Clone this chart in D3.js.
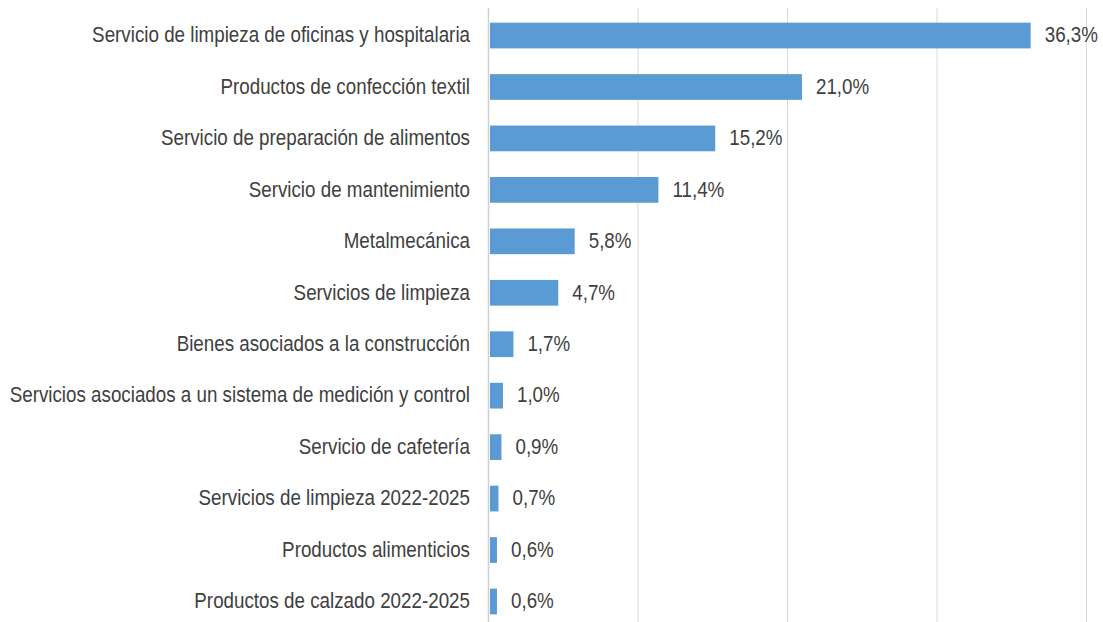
<!DOCTYPE html>
<html lang="es">
<head>
<meta charset="UTF-8">
<title>Participación por categoría</title>
<style>
    body { margin: 0; background: #fff; }
    svg { display: block; }
    .lbl { font-family: 'Liberation Sans', Arial, sans-serif; font-size: 22.5px; fill: #404040; }
</style>
</head>
<body>
<script src="https://d3js.org/d3.v7.min.js"></script>
<script>
// categorías y valores (%)
const categories = [
    "Servicio de limpieza de oficinas y hospitalaria",
    "Productos de confección textil",
    "Servicio de preparación de alimentos",
    "Servicio de mantenimiento",
    "Metalmecánica",
    "Servicios de limpieza",
    "Bienes asociados a la construcción",
    "Servicios asociados a un sistema de medición y control",
    "Servicio de cafetería",
    "Servicios de limpieza 2022-2025",
    "Productos alimenticios",
    "Productos de calzado 2022-2025"
];
const values = [36.3, 21.0, 15.2, 11.4, 5.8, 4.7, 1.7, 1.0, 0.9, 0.7, 0.6, 0.6];
const gridTicks = [0, 10, 20, 30, 40];

const width = 1103, height = 622;
const narrow = 0.835; // no Arial Narrow here, squeeze the text instead

const svg = d3.select("body").append("svg")
    .attr("width", width)
    .attr("height", height);

const x = d3.scaleLinear().domain([0, 40]).range([488, 1086]);
const y = d3.scaleBand().domain(categories).range([9.8, 627.2]).paddingInner(0.5).paddingOuter(0.25);

// gridlines
svg.append("g").selectAll("line")
    .data(gridTicks)
    .join("line")
    .attr("x1", d => x(d) + 0.5).attr("x2", d => x(d) + 0.5)
    .attr("y1", 8).attr("y2", height)
    .attr("stroke", d => d === 0 ? "#d0d0d0" : "#d9d9d9")
    .attr("stroke-width", d => d === 0 ? 1.5 : 1);

// bars
svg.append("g").selectAll("rect")
    .data(values)
    .join("rect")
    .attr("x", x(0) + 2)
    .attr("y", (d, i) => y(categories[i]))
    .attr("width", d => x(d) - x(0) - 2)
    .attr("height", y.bandwidth())
    .attr("fill", "#5b9bd5");

// category labels
svg.append("g").selectAll("text")
    .data(categories)
    .join("text")
    .attr("class", "lbl")
    .attr("transform", d => `translate(${x(0) - 18},${y(d) + y.bandwidth() / 2}) scale(${narrow},1)`)
    .attr("dy", "0.3em")
    .attr("text-anchor", "end")
    .text(d => d);

// value labels
const fmt = d3.formatLocale({ decimal: ",", thousands: ".", grouping: [3], currency: ["", ""] }).format(".1f");
svg.append("g").selectAll("text")
    .data(values)
    .join("text")
    .attr("class", "lbl")
    .attr("transform", (d, i) => `translate(${x(d) + 14},${y(categories[i]) + y.bandwidth() / 2}) scale(${narrow},1)`)
    .attr("dy", "0.3em")
    .text(d => fmt(d) + "%");
</script>
</body>
</html>
